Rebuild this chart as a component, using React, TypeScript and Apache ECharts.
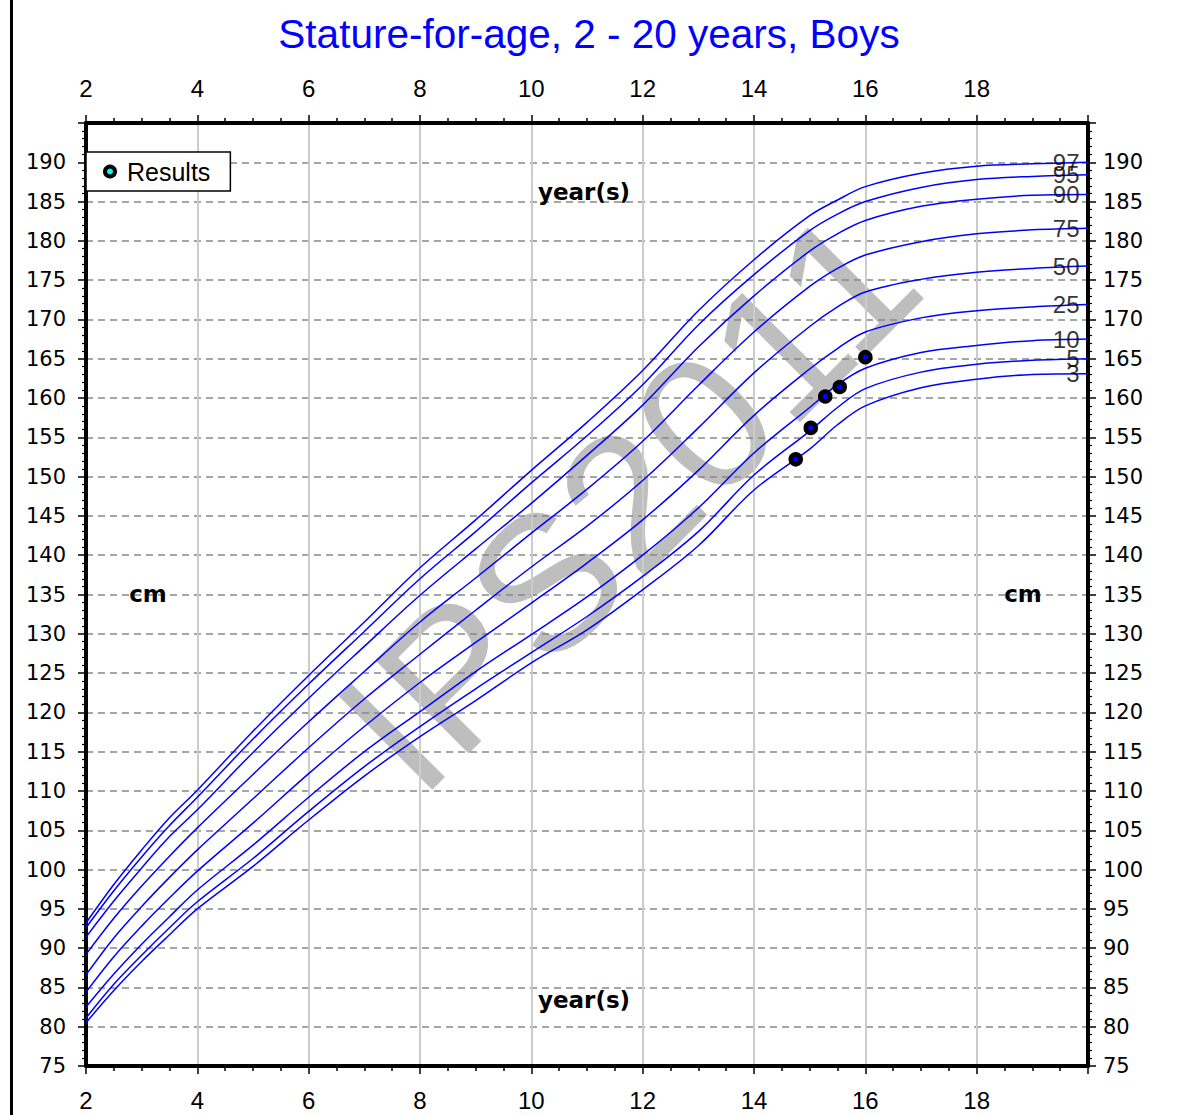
import { useEffect, useRef } from "react";
import * as echarts from "echarts";

// Age grid (years) for the percentile curves
const AGES = [2, 2.5, 3, 3.5, 4, 5, 6, 7, 8, 9, 10, 11, 12, 13, 14, 15, 15.5, 16, 17, 18, 19, 20];

// Stature percentiles, boys (cm)
const P3 = [80.5, 84.6, 88.3, 91.7, 95.0, 100.4, 106.3, 111.9, 116.9, 121.5, 126.3, 130.5, 135.6, 141.2, 148.3, 153.5, 156.6, 159.0, 161.3, 162.4, 163.0, 163.1];
const P5 = [81.1, 85.4, 89.1, 92.6, 95.9, 101.4, 107.4, 113.1, 118.2, 123.0, 127.6, 132.2, 137.3, 143.0, 150.2, 155.8, 158.8, 161.2, 163.3, 164.3, 164.8, 165.0];
const P10 = [82.5, 86.7, 90.5, 94.0, 97.4, 103.1, 109.2, 115.0, 120.1, 125.2, 129.9, 134.7, 140.0, 146.0, 153.0, 158.8, 161.7, 163.8, 165.8, 166.7, 167.3, 167.5];
const P25 = [84.4, 88.9, 92.8, 96.4, 99.8, 105.9, 112.2, 118.2, 123.8, 128.9, 133.9, 139.0, 144.5, 150.8, 157.8, 163.7, 166.3, 168.4, 170.2, 171.1, 171.6, 171.9];
const P50 = [86.6, 91.3, 95.3, 99.0, 102.5, 109.0, 115.5, 121.7, 127.4, 133.0, 138.5, 143.7, 149.5, 156.2, 163.2, 169.1, 171.6, 173.5, 175.1, 176.0, 176.5, 176.8];
const P75 = [89.2, 93.8, 97.9, 101.7, 105.3, 112.1, 118.8, 125.2, 131.5, 137.1, 142.8, 148.4, 154.5, 161.6, 168.4, 174.2, 176.5, 178.2, 179.9, 180.9, 181.4, 181.6];
const P90 = [91.4, 96.0, 100.2, 104.2, 107.6, 114.9, 121.8, 128.4, 134.9, 140.8, 146.6, 152.7, 159.1, 166.5, 173.0, 178.7, 180.9, 182.6, 184.4, 185.3, 185.8, 185.9];
const P95 = [92.6, 97.3, 101.6, 105.6, 109.2, 116.6, 123.6, 130.3, 137.0, 143.0, 149.2, 155.2, 161.7, 169.3, 175.7, 181.3, 183.4, 185.0, 186.8, 187.8, 188.2, 188.4];
const P97 = [93.2, 98.1, 102.5, 106.6, 110.1, 117.6, 124.7, 131.5, 138.4, 144.5, 150.8, 156.9, 163.5, 171.1, 177.6, 183.2, 185.2, 186.9, 188.6, 189.5, 189.8, 190.0];

const PERCENTILE_NAMES = ["3", "5", "10", "25", "50", "75", "90", "95", "97"];
const PERCENTILE_VALUES = [P3, P5, P10, P25, P50, P75, P90, P95, P97];

// Measured results
const RESULT_AGES = [14.75, 15.02, 15.28, 15.54, 16.0];
const RESULT_HEIGHTS = [152.2, 156.2, 160.2, 161.4, 165.2];

const TITLE = "Stature-for-age, 2 - 20 years, Boys";

const AXIS_FONT_X = { fontFamily: "Liberation Sans", fontSize: 24, color: "#000" };
const AXIS_FONT_Y = { fontFamily: "DejaVu Sans", fontSize: 21, color: "#000" };

function makeX(position: "top" | "bottom", withGrid: boolean, margin: number) {
  return {
    type: "value",
    position,
    min: 2,
    max: 20,
    interval: 2,
    axisLine: { show: true, onZero: false, lineStyle: { color: "#000", width: 4 } },
    axisTick: { show: true, length: 8, lineStyle: { color: "#000", width: 1.5 } },
    minorTick: { show: true, splitNumber: 4, length: 5, lineStyle: { color: "#000", width: 1.5 } },
    splitLine: { show: withGrid, lineStyle: { color: "#cccccc", width: 2, type: "solid" } },
    axisLabel: {
      ...AXIS_FONT_X,
      margin,
      formatter: (v: number) => (v >= 20 ? "" : String(v)),
    },
  };
}

function makeY(position: "left" | "right", withGrid: boolean, margin: number) {
  return {
    type: "value",
    position,
    min: 75,
    max: 195,
    interval: 5,
    axisLine: { show: true, onZero: false, lineStyle: { color: "#000", width: 4 } },
    axisTick: { show: true, length: 8, lineStyle: { color: "#000", width: 1.5 } },
    minorTick: { show: true, splitNumber: 5, length: 4, lineStyle: { color: "#000", width: 1.2 } },
    splitLine: { show: withGrid, lineStyle: { color: "#888888", width: 1.5, type: [7, 5] } },
    axisLabel: {
      ...AXIS_FONT_Y,
      margin,
      formatter: (v: number) => (v >= 195 ? "" : String(v)),
    },
  };
}

function boldText(text: string, x: number, y: number) {
  return {
    type: "text",
    x,
    y,
    z: 10,
    style: {
      text,
      font: 'bold 23px "DejaVu Sans"',
      fill: "#000",
      align: "center",
      verticalAlign: "middle",
      textAlign: "center",
      textVerticalAlign: "middle",
    },
  };
}

function buildOption() {
  const last = AGES.length - 1;
  const curveSeries = PERCENTILE_VALUES.map((vals, i) => ({
    name: "P" + PERCENTILE_NAMES[i],
    type: "line",
    data: AGES.map((a, j) => [a, vals[j]]),
    showSymbol: false,
    symbol: "none",
    smooth: 0.35,
    lineStyle: { color: "#0000ff", width: 1.5 },
    z: 3,
    silent: true,
  }));

  // Percentile names written at the right-hand end of each curve
  const labelSeries = {
    name: "percentile-labels",
    type: "scatter",
    clip: false,
    symbol: "circle",
    symbolSize: 1,
    itemStyle: { color: "rgba(0,0,0,0)" },
    z: 6,
    silent: true,
    data: PERCENTILE_VALUES.map((vals, i) => ({
      value: [AGES[last], vals[last]],
      label: {
        show: true,
        position: "left",
        distance: 8,
        formatter: PERCENTILE_NAMES[i],
        fontFamily: "Liberation Sans",
        fontSize: 24,
        color: "#000",
      },
    })),
  };

  const resultSeries = {
    name: "Results",
    type: "scatter",
    clip: false,
    symbol: "circle",
    symbolSize: 10,
    itemStyle: { color: "#0000ff", borderColor: "#000", borderWidth: 4.5, opacity: 1 },
    z: 8,
    data: RESULT_AGES.map((a, i) => [a, RESULT_HEIGHTS[i]]),
  };

  return {
    animation: false,
    backgroundColor: "#ffffff",
    title: {
      text: TITLE,
      left: 584,
      top: 8,
      textAlign: "center",
      textStyle: { color: "#0000ff", fontSize: 40.5, fontWeight: "normal", fontFamily: "Liberation Sans" },
    },
    legend: {
      data: [
        {
          name: "Results",
          icon: "circle",
          itemStyle: { color: "#00ffff", borderColor: "#000", borderWidth: 4 },
        },
      ],
      left: 86,
      top: 152,
      orient: "horizontal",
      backgroundColor: "#ffffff",
      borderColor: "#000",
      borderWidth: 1.5,
      borderRadius: 0,
      padding: [7, 20, 7, 17],
      itemWidth: 24,
      itemHeight: 10,
      itemGap: 5,
      selectedMode: false,
      textStyle: { fontFamily: "Liberation Sans", fontSize: 25, color: "#000", lineHeight: 22 },
      z: 20,
    },
    grid: { left: 86, right: 98, top: 123, bottom: 49, containLabel: false, outerBoundsMode: "none" },
    xAxis: [makeX("bottom", true, 22), makeX("top", false, 23)],
    yAxis: [makeY("left", true, 20), makeY("right", false, 15)],
    graphic: [
      {
        type: "text",
        x: 628,
        y: 500,
        rotation: Math.PI / 4,
        z: -1,
        silent: true,
        style: {
          text: "IPS2011",
          font: 'normal 192px "Liberation Sans"',
          fill: "#bebebe",
          align: "center",
          verticalAlign: "middle",
          textAlign: "center",
          textVerticalAlign: "middle",
        },
      },
      boldText("year(s)", 584, 192),
      boldText("year(s)", 584, 1000),
      boldText("cm", 148, 594),
      boldText("cm", 1023, 594),
      {
        type: "line",
        z: 10,
        shape: { x1: 11.5, y1: 0, x2: 11.5, y2: 1115 },
        style: { stroke: "#000", lineWidth: 3 },
      },
    ],
    series: [...curveSeries, labelSeries, resultSeries],
  };
}

export default function App() {
  const ref = useRef<HTMLDivElement>(null);
  useEffect(() => {
    if (!ref.current) return;
    const chart = echarts.init(ref.current, null, { renderer: "svg" });
    chart.setOption(buildOption() as any);
    return () => chart.dispose();
  }, []);
  return (
    <div
      ref={ref}
      style={{ position: "absolute", left: 0, top: 0, width: 1186, height: 1115, background: "#fff" }}
    />
  );
}
